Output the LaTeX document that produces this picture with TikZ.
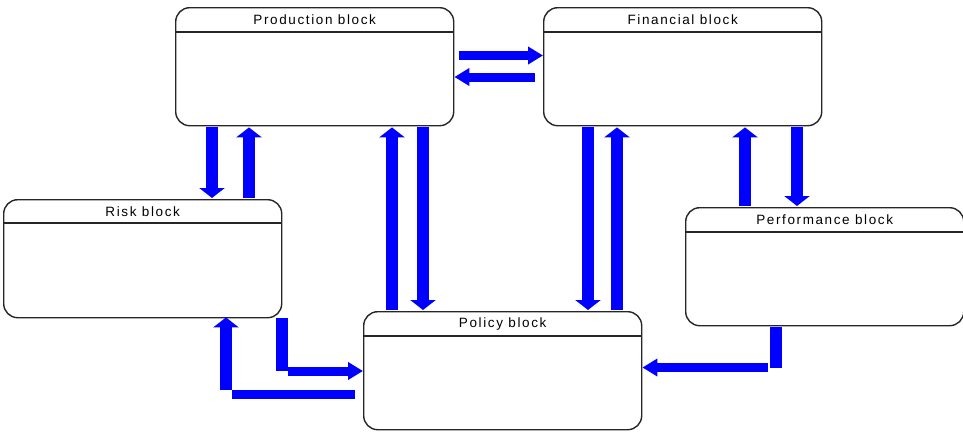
\documentclass[tikz,border=0pt]{standalone}
\usepackage{fontspec}
\setmainfont{Liberation Sans}[LetterSpace=12]
\usetikzlibrary{arrows.meta}
\definecolor{flowblue}{RGB}{0,0,255}
\begin{document}
\begin{tikzpicture}[x=1pt,y=-1pt,
  blockbox/.style={draw=black!85, line width=1.4pt, rounded corners=14pt, minimum width=278pt, minimum height=118pt, anchor=north west, inner sep=0pt},
  vflow/.style={draw=flowblue, line width=12pt, line cap=butt,
     -{Triangle[width=25pt,length=10pt]}},
  hflow/.style={draw=flowblue, line width=9pt, line cap=butt,
     -{Triangle[width=17pt,length=15pt]}},
  vbar/.style={draw=flowblue, line width=12pt, line cap=butt},
  hbar/.style={draw=flowblue, line width=9pt, line cap=butt},
  title/.style={font=\fontsize{13.5}{15}\selectfont, anchor=center}
]
\useasboundingbox (0,0) rectangle (963,431);
\fill[white] (0,0) rectangle (963,431);

% blocks
\node[blockbox] (prod) at (175,7) {};
\node[blockbox] (fin) at (543,7) {};
\node[blockbox] (risk) at (3,199) {};
\node[blockbox] (perf) at (685,207) {};
\node[blockbox] (pol) at (363,311) {};

% header lines
\foreach \n/\h in {prod/25, fin/25, risk/24, perf/25, pol/25}{
  \draw[black!85, line width=1.2pt] ([yshift=-\h pt]\n.north west) -- ([yshift=-\h pt]\n.north east);
}

% titles
\node[title] (tprod) at ([yshift=-13pt]prod.north) {Production block};
\node[title] (tfin) at ([yshift=-13pt]fin.north) {Financial block};
\node[title] (trisk) at ([yshift=-13pt]risk.north) {Risk block};
\node[title] (tperf) at ([yshift=-13pt]perf.north) {Performance block};
\node[title] (tpol) at ([yshift=-13pt]pol.north) {Policy block};

% horizontal pair between production and financial
\coordinate (a1) at (459,55.5);
\draw[hflow] (a1) -- (fin.north west |- 0,55.5);
\coordinate (a2) at (535,77);
\draw[hflow] (a2) -- (prod.north east |- 0,77);

% production <-> risk
\draw[vflow] (212,127) coordinate (b1) -- ([yshift=1pt]risk.north -| 212,0);
\draw[vflow] (249,198) coordinate (b2) -- ([yshift=-1pt]prod.south -| 249,0);

% production <-> policy
\draw[vflow] (392,310) coordinate (c1) -- ([yshift=-1pt]prod.south -| 392,0);
\draw[vflow] (423,127) coordinate (c2) -- ([yshift=1pt]pol.north -| 423,0);

% financial <-> policy
\draw[vflow] (588,127) coordinate (d1) -- ([yshift=1pt]pol.north -| 588,0);
\draw[vflow] (617,310) coordinate (d2) -- ([yshift=-1pt]fin.south -| 617,0);

% financial <-> performance
\draw[vflow] (745,206) coordinate (e1) -- ([yshift=-1pt]fin.south -| 745,0);
\draw[vflow] (797,127) coordinate (e2) -- ([yshift=1pt]perf.north -| 797,0);

% risk -> policy
\coordinate (f1) at (282,318);
\coordinate (f2) at (282,371);
\draw[vbar] (f1) -- (f2);
\draw[hflow] ([xshift=6pt]f2) -- (pol.west |- 0,371);
% policy -> risk
\coordinate (g1) at (355,394.5);
\coordinate (g2) at (226,394.5);
\draw[hbar] (g1) -- ([xshift=6pt]g2);
\draw[vflow] ([yshift=4.5pt]g2) -- ([yshift=1pt]risk.south -| 226,0);
% performance -> policy
\coordinate (h1) at (776,327);
\coordinate (h2) at (776,367.5);
\draw[vbar] (h1) -- (h2);
\draw[hflow] ([xshift=-8pt]h2) -- (pol.east |- 0,367.5);
\end{tikzpicture}
\end{document}
